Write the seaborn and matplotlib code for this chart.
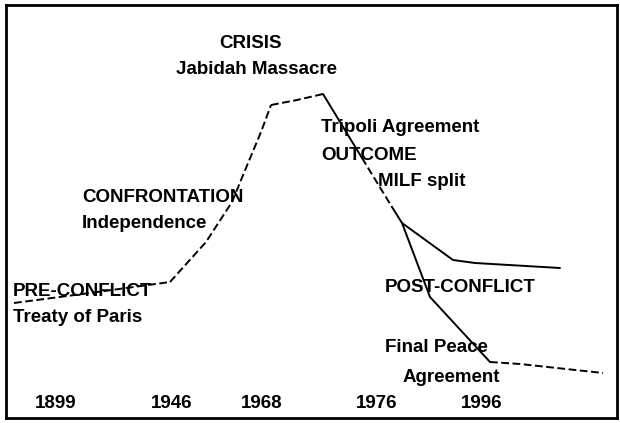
import pandas as pd
import matplotlib
matplotlib.use('Agg')
import matplotlib.pyplot as plt
import seaborn as sns

# timeline path (x = position along the timeline, y = conflict intensity)
seg_names = ['pre', 'rise', 'plateau', 'fall_a', 'fall_b', 'fall_c', 'branch_up', 'branch_down', 'peace']
seg_kinds = ['dashed', 'dashed', 'dashed', 'solid', 'dashed', 'solid', 'solid', 'solid', 'dashed']
seg_x = [
    [8, 84, 164],
    [164, 200, 226, 240, 255, 265],
    [265, 291, 317],
    [317, 356],
    [356, 386],
    [386, 396],
    [396, 447, 469, 554],
    [396, 424, 484],
    [484, 514, 597],
]
seg_y = [
    [115, 125, 136],
    [136, 176, 216, 250, 286, 313],
    [313, 318, 324],
    [324, 260],
    [260, 211],
    [211, 195],
    [195, 158, 155, 150],
    [195, 121, 56],
    [56, 54, 45],
]

# stage labels
labels = ['CRISIS', 'Jabidah Massacre', 'CONFRONTATION', 'Independence',
          'PRE-CONFLICT', 'Treaty of Paris', 'Tripoli Agreement', 'OUTCOME',
          'MILF split', 'POST-CONFLICT', 'Final Peace', 'Agreement']
label_x = [245, 250, 76, 76, 7, 7, 315, 315, 372, 379, 379, 397]
label_y = [375, 348, 221, 194, 126, 100, 290, 263, 236, 130, 71, 41]
label_ha = ['center', 'center', 'left', 'left', 'left', 'left', 'left', 'left',
            'left', 'left', 'left', 'left']

# year ticks along the bottom
years = ['1899', '1946', '1968', '1976', '1996']
year_x = [50, 166, 256, 371, 476]
year_y = 15

rows = []
for name, kind, xs, ys in zip(seg_names, seg_kinds, seg_x, seg_y):
    for i, (x, y) in enumerate(zip(xs, ys)):
        rows.append({'seg': name, 'kind': kind, 'order': i, 'x': x, 'y': y})
df = pd.DataFrame(rows)

sns.set_theme(style='white')
plt.rcParams['font.family'] = ['Liberation Sans', 'DejaVu Sans']

fig = plt.figure(figsize=(6.2, 4.23), dpi=100)
ax = fig.add_axes([6 / 620, 5 / 423, 611 / 620, 413 / 423])

sns.lineplot(data=df, x='x', y='y', units='seg', estimator=None, sort=False,
             style='kind', dashes={'dashed': (4, 1.8), 'solid': ''},
             color='black', linewidth=1.4, legend=False, ax=ax)

for txt, x, y, ha in zip(labels, label_x, label_y, label_ha):
    ax.text(x, y, txt, ha=ha, va='center', fontsize=13.5, fontweight='bold', color='black')

for yr, x in zip(years, year_x):
    ax.text(x, year_y, yr, ha='center', va='center', fontsize=13.5, fontweight='bold', color='black')

ax.set_xlim(0, 611)
ax.set_ylim(0, 413)
ax.set_xticks([])
ax.set_yticks([])
ax.set_xlabel('')
ax.set_ylabel('')
for sp in ax.spines.values():
    sp.set_visible(True)
    sp.set_color('black')
    sp.set_linewidth(2)

fig.savefig('out.png', dpi=100, facecolor='white')
